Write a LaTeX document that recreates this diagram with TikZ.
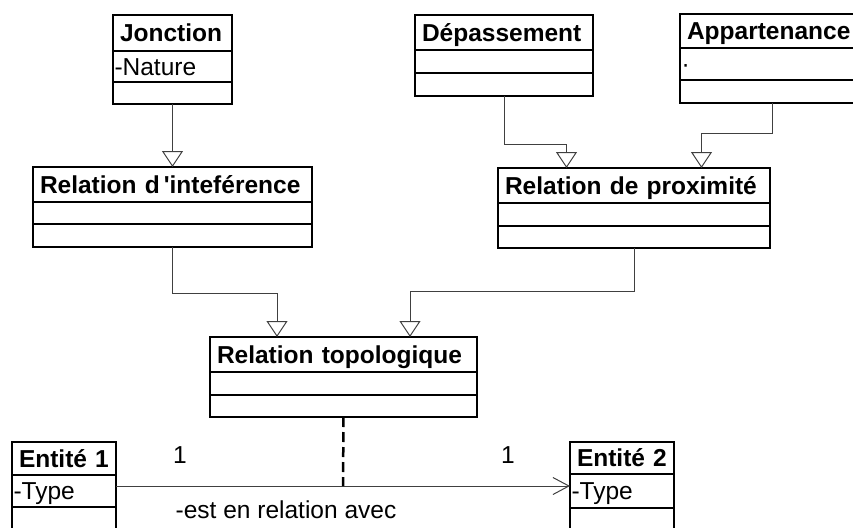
\documentclass[tikz,border=0pt]{standalone}
\usepackage{fontspec}
\setmainfont{Liberation Sans}
\usetikzlibrary{arrows.meta,positioning,calc}
\tikzset{
  clshead/.style={draw, line width=1.2pt, outer sep=0pt, inner xsep=7pt, inner ysep=0pt, anchor=north west, align=left, text height=17.5pt, text depth=0pt, font=\bfseries\fontsize{24.5}{28}\selectfont},
  clsrow/.style={draw, line width=1.2pt, outer sep=0pt, inner xsep=1.5pt, inner ysep=0pt, align=left, text height=17.5pt, text depth=0pt, font=\fontsize{24.5}{28}\selectfont},
  genarrow/.style={line width=1pt, black!75, -{Triangle[open,length=16pt,width=21pt]}},
  assocarrow/.style={line width=1pt, black!75, -{Straight Barb[length=16pt,width=17pt]}},
  depline/.style={line width=2.5pt, dash pattern=on 10pt off 5pt},
  mult/.style={font=\fontsize{24.5}{28}\selectfont}
}
\begin{document}
\begin{tikzpicture}[x=1pt,y=-1pt]
  \useasboundingbox (0,0) rectangle (853,527);
  \clip (0,0) rectangle (853,527);

  % top row
  \node[clshead, text width=105pt, minimum height=36pt] (jonc) at (113,15) {Jonction};
  \node[clsrow, text width=116pt, minimum height=31pt, below=0pt of jonc] (joncattr) {-Nature};
  \node[clsrow, text width=116pt, minimum height=22pt, below=0pt of joncattr] (joncops) {};

  \node[clshead, text width=164pt, minimum height=35pt] (dep) at (415,15) {Dépassement};
  \node[clsrow, text width=175pt, minimum height=23pt, below=0pt of dep] (depattr) {};
  \node[clsrow, text width=175pt, minimum height=23pt, below=0pt of depattr] (depops) {};

  \node[clshead, text width=170pt, minimum height=34pt] (app) at (680,14) {Appartenance};
  \node[clsrow, text width=181pt, minimum height=32pt, below=0pt of app] (appattr) {·};
  \node[clsrow, text width=181pt, minimum height=23pt, below=0pt of appattr] (appops) {};

  % middle row
  \node[clshead, text width=265pt, minimum height=35pt] (interf) at (33,167) {Relation d\,\textquotesingle inteférence};
  \node[clsrow, text width=276pt, minimum height=22pt, below=0pt of interf] (interfattr) {};
  \node[clsrow, text width=276pt, minimum height=23pt, below=0pt of interfattr] (interfops) {};

  \node[clshead, text width=258pt, minimum height=35pt] (prox) at (498,168) {Relation de proximité};
  \node[clsrow, text width=269pt, minimum height=23pt, below=0pt of prox] (proxattr) {};
  \node[clsrow, text width=269pt, minimum height=22pt, below=0pt of proxattr] (proxops) {};

  % Relation topologique
  \node[clshead, text width=253pt, minimum height=35pt] (topo) at (210,337) {Relation topologique};
  \node[clsrow, text width=264pt, minimum height=23pt, below=0pt of topo] (topoattr) {};
  \node[clsrow, text width=264pt, minimum height=22pt, below=0pt of topoattr] (topoops) {};

  % entities
  \node[clshead, text width=90pt, minimum height=33pt] (ent1) at (12,442) {Entité 1};
  \node[clsrow, text width=101pt, minimum height=32pt, below=0pt of ent1] (ent1attr) {-Type};
  \node[clsrow, text width=101pt, minimum height=30pt, below=0pt of ent1attr] (ent1ops) {};

  \node[clshead, text width=90pt, minimum height=32pt] (ent2) at (570,442) {Entité 2};
  \node[clsrow, text width=101pt, minimum height=34pt, below=0pt of ent2] (ent2attr) {-Type};
  \node[clsrow, text width=101pt, minimum height=30pt, below=0pt of ent2attr] (ent2ops) {};

  % generalisations
  \draw[genarrow] (joncops.south) -- (interf.north);
  \draw[genarrow] (depops.south) |- ([xshift=-67.5pt,yshift=24pt]prox.north) -- ([xshift=-67.5pt]prox.north);
  \draw[genarrow] (appops.south) |- ([xshift=67.5pt,yshift=35pt]prox.north) -- ([xshift=67.5pt]prox.north);
  \draw[genarrow] (interfops.south) |- ([xshift=-66.5pt,yshift=44pt]topo.north) -- ([xshift=-66.5pt]topo.north);
  \draw[genarrow] (proxops.south) |- ([xshift=66.5pt,yshift=46pt]topo.north) -- ([xshift=66.5pt]topo.north);

  % association
  \draw[assocarrow] ([yshift=5pt]ent1attr.east) -- coordinate[midway] (assocmid) ([yshift=5pt]ent2attr.west);
  \draw[depline] (topoops.south) -- (assocmid);
  \node[mult] (mult1) at (180,455) {1};
  \node[mult] (mult2) at (508,455) {1};
  \node[mult] (assoclbl) at (286,510) {-est en relation avec};
\end{tikzpicture}
\end{document}
